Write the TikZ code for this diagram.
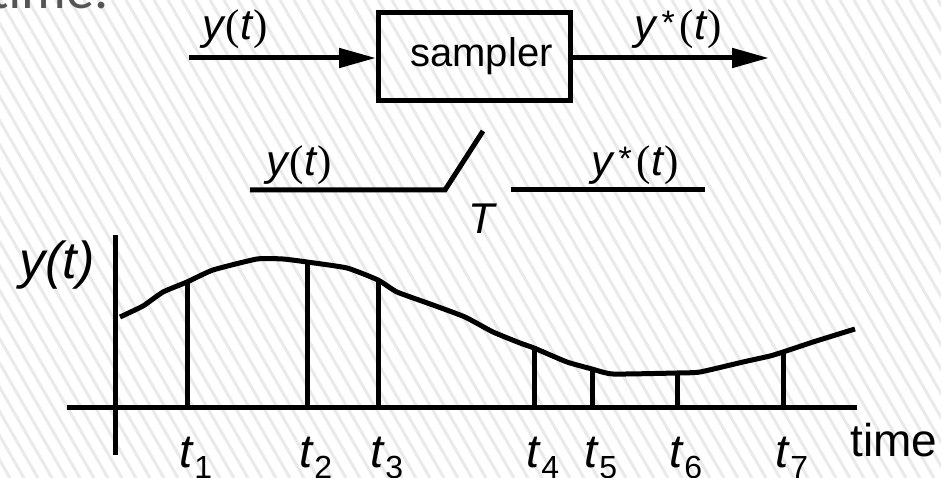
\documentclass[tikz,border=0pt]{standalone}
\usepackage{fontspec}
\setmainfont{Liberation Sans}
\newfontfamily\serifm{Liberation Serif}
\newfontfamily\calib{Carlito}
\usetikzlibrary{arrows.meta}
\definecolor{titlegray}{RGB}{85,85,85}
\definecolor{hatch}{RGB}{234,234,234}
\newcommand{\yt}{\textit{y}{\serifm(}\textit{t}{\serifm)}}
\newcommand{\yst}{\textit{y}\hspace{4pt}\raisebox{0.12em}{\fontsize{34}{34}\selectfont *}\hspace{5pt}{\serifm(}\textit{t}{\serifm)}}
\newcommand{\tsub}[1]{\textit{t}{\fontsize{32}{32}\selectfont\raisebox{-11pt}{#1}}}
\begin{document}
\begin{tikzpicture}[x=1pt,y=-1pt,
  thickline/.style={line width=5pt},
  arr/.style={line width=5pt,-{Triangle[length=37pt,width=19pt]}},
  blockbox/.style={draw,line width=5pt,minimum width=192pt,minimum height=88pt,inner sep=0pt,font=\fontsize{40}{44}\selectfont},
  lbl/.style={inner sep=0pt,font=\fontsize{43}{46}\selectfont},
  tlbl/.style={inner sep=0pt,anchor=base,font=\fontsize{47}{50}\selectfont},
]
\useasboundingbox (0,0) rectangle (941,478);
\begin{scope}
\clip (0,0) rectangle (941,478);
\fill[white] (0,0) rectangle (941,478);
\foreach \i in {-25,...,70} \draw[line width=3pt, color=hatch] (\i*14,0) -- ++(276,478);
\node[anchor=base west, inner sep=0pt, text=titlegray, font=\calib\fontsize{56}{60}\selectfont] (ttl) at (-10,9) {time.};
\end{scope}

% top row
\node[blockbox] (smp) at (474.5,56.5) {\hspace*{14pt}sampler};
\coordinate (in) at (189,58);
\coordinate (out) at (769,58);
\draw[arr] (in) -- (in -| smp.west);
\draw[arr] (out -| smp.east) -- (out);
\node[lbl] (yin) at (235,29) {\yt};
\node[lbl] (yout) at (678,29) {\yst};

% switch
\coordinate (swl) at (250,190);
\coordinate (swk) at (445,190);
\coordinate (swt) at (483,131);
\coordinate (swr1) at (511,190);
\coordinate (swr2) at (705,190);
\draw[thickline] (swl) -- (swk) -- (swt);
\draw[thickline] (swr1) -- (swr2);
\node[lbl] (ym) at (299,165) {\yt};
\node[lbl] (ysm) at (635,165) {\yst};
\node[lbl] (T) at (483,219) {\textit{T}};

% plot
\coordinate (vt) at (115,235);
\coordinate (vb) at (115,455);
\coordinate (hl) at (67,407);
\coordinate (hr) at (857,407);
\draw[thickline] (vt) -- (vb);
\draw[thickline] (hl) -- (hr);
\draw[thickline, line join=round] plot[smooth, tension=0.3] coordinates {(120,317) (143,306) (163,292) (187,282) (213,270) (257,259) (283,259) (307,262) (347,268) (378,280) (397,292) (433,305) (465,317) (493,332) (520,343) (534,348) (567,362) (592,369) (613,374) (677,373) (700,372) (743,362) (770,356) (783,352) (813,342) (855,329)};
\foreach \n/\x/\y in {1/187/282, 2/307/262, 3/378/280, 4/534/348, 5/592/369, 6/677/373, 7/783/352} {
  \coordinate (b\n) at (\x,407);
  \coordinate (c\n) at (\x,\y);
  \draw[thickline] (b\n) -- (c\n);
  \node[tlbl] (t\n) at (\x+9,467) {\tsub{\n}};
}
\node[inner sep=0pt, font=\fontsize{52}{56}\selectfont\itshape] (ylab) at (57,265) {y(t)};
\node[anchor=base west, inner sep=0pt, font=\fontsize{46}{50}\selectfont] (time) at (850,456) {time};
\end{tikzpicture}
\end{document}
